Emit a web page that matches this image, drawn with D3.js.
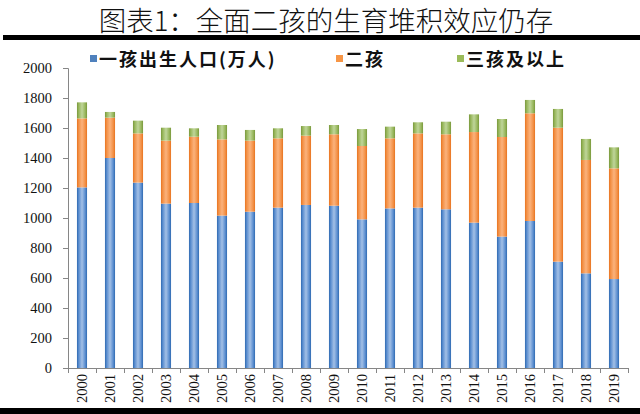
<!DOCTYPE html>
<html><head><meta charset="utf-8">
<script src="https://cdn.jsdelivr.net/npm/d3@7"></script>
<style>html,body{margin:0;padding:0;background:#fff;}svg{display:block;}</style>
</head><body>
<svg id="c" width="640" height="414"></svg>
<script>
const years = ["2000","2001","2002","2003","2004","2005","2006","2007","2008","2009","2010","2011","2012","2013","2014","2015","2016","2017","2018","2019"];
const firstChild = [1204,1400,1236,1096,1100,1016,1042,1069,1087,1082,991,1064,1069,1058,969,876,980,709,631,593];
const secondChild = [460,269,328,420,442,508,474,462,462,476,489,467,495,500,604,664,718,893,756,738];
const thirdPlus = [107,38,85,86,56,96,71,67,64,62,113,78,74,84,118,120,89,125,140,140];
const seriesNames = ["一孩出生人口(万人)","二孩","三孩及以上"];
const yTicks = [0,200,400,600,800,1000,1200,1400,1600,1800,2000];
const title = "图表1：全面二孩的生育堆积效应仍存";

const svg = d3.select("#c");
const mLeft = 68, mRight = 628, mTop = 68, mBottom = 368;

const rows = years.map((yr,i)=>({year:yr, s0:firstChild[i], s1:secondChild[i], s2:thirdPlus[i]}));
const stack = d3.stack().keys(["s0","s1","s2"])(rows);

const x = d3.scaleBand().domain(years).range([mLeft,mRight]).paddingInner(0.64).paddingOuter(0.32);
const xb = d3.scaleBand().domain(years).range([mLeft,mRight]);
const y = d3.scaleLinear().domain([0,2000]).range([mBottom,mTop]);

// gradients
const defs = svg.append("defs");
const grads = [
  {id:"gBlue", edge:"#2e69b0", mid:"#5b8ed0", center:"#a3c0e6"},
  {id:"gOrange", edge:"#e8731f", mid:"#f39147", center:"#fbb27c"},
  {id:"gGreen", edge:"#78973c", mid:"#98b75c", center:"#bfd59a"}
];
grads.forEach(g=>{
  const lg = defs.append("linearGradient").attr("id",g.id).attr("x1","0").attr("x2","1").attr("y1","0").attr("y2","0");
  [[0,g.edge],[0.18,g.mid],[0.5,g.center],[0.82,g.mid],[1,g.edge]].forEach(([o,c])=>lg.append("stop").attr("offset",o).attr("stop-color",c));
});
const fills = ["url(#gBlue)","url(#gOrange)","url(#gGreen)"];
const legendColors = ["#4f81bd","#f79646","#9bbb59"];

// title
svg.append("text").attr("x",326).attr("y",31).attr("text-anchor","middle")
  .attr("font-family","'Noto Sans CJK SC'").attr("font-weight",300).attr("font-size",27.5).attr("fill","#111")
  .text(title);
svg.append("rect").attr("x",3).attr("y",35).attr("width",637).attr("height",5).attr("fill","#000");
svg.append("rect").attr("x",0).attr("y",408).attr("width",640).attr("height",6).attr("fill","#000");

// legend
const legX = [90, 336, 457];
seriesNames.forEach((n,i)=>{
  svg.append("rect").attr("x",legX[i]).attr("y",55).attr("width",7).attr("height",7).attr("fill",legendColors[i]);
  svg.append("text").attr("x",legX[i]+9).attr("y",65.5).attr("font-family","'Noto Sans CJK SC'")
    .attr("font-weight",700).attr("font-size",18).attr("letter-spacing",2).attr("fill","#111").text(n);
});

// bars
svg.append("g").selectAll("g").data(stack).join("g").attr("fill",(d,i)=>fills[i])
  .selectAll("rect").data(d=>d).join("rect")
  .attr("x",d=>x(d.data.year)).attr("width",x.bandwidth())
  .attr("y",d=>y(d[1])).attr("height",d=>y(d[0])-y(d[1]));

// y axis
const yAxis = svg.append("g").attr("transform",`translate(${mLeft},0)`)
  .call(d3.axisLeft(y).tickValues(yTicks).tickSize(5).tickPadding(11).tickFormat(d3.format("d")));
yAxis.select(".domain").attr("stroke","#868686");
yAxis.selectAll(".tick line").attr("stroke","#868686");
yAxis.selectAll("text").attr("font-family","'Liberation Serif'").attr("font-size",14.5).attr("fill","#111");

// x axis
const xAxis = svg.append("g").attr("transform",`translate(0,${mBottom})`);
xAxis.append("line").attr("x1",mLeft).attr("x2",mRight).attr("y1",0.5).attr("y2",0.5).attr("stroke","#868686");
const bounds = years.map(d=>xb(d)).concat([mRight]);
xAxis.selectAll("line.t").data(bounds).join("line").attr("class","t")
  .attr("x1",d=>d+0.5).attr("x2",d=>d+0.5).attr("y1",0).attr("y2",5).attr("stroke","#868686");
xAxis.selectAll("text.lbl").data(years).join("text").attr("class","lbl")
  .attr("transform",d=>`translate(${xb(d)+xb.bandwidth()/2+5},6) rotate(-90)`)
  .attr("text-anchor","end").attr("font-family","'Liberation Serif'").attr("font-size",14.5).attr("fill","#111")
  .text(d=>d);
</script>
</body></html>
